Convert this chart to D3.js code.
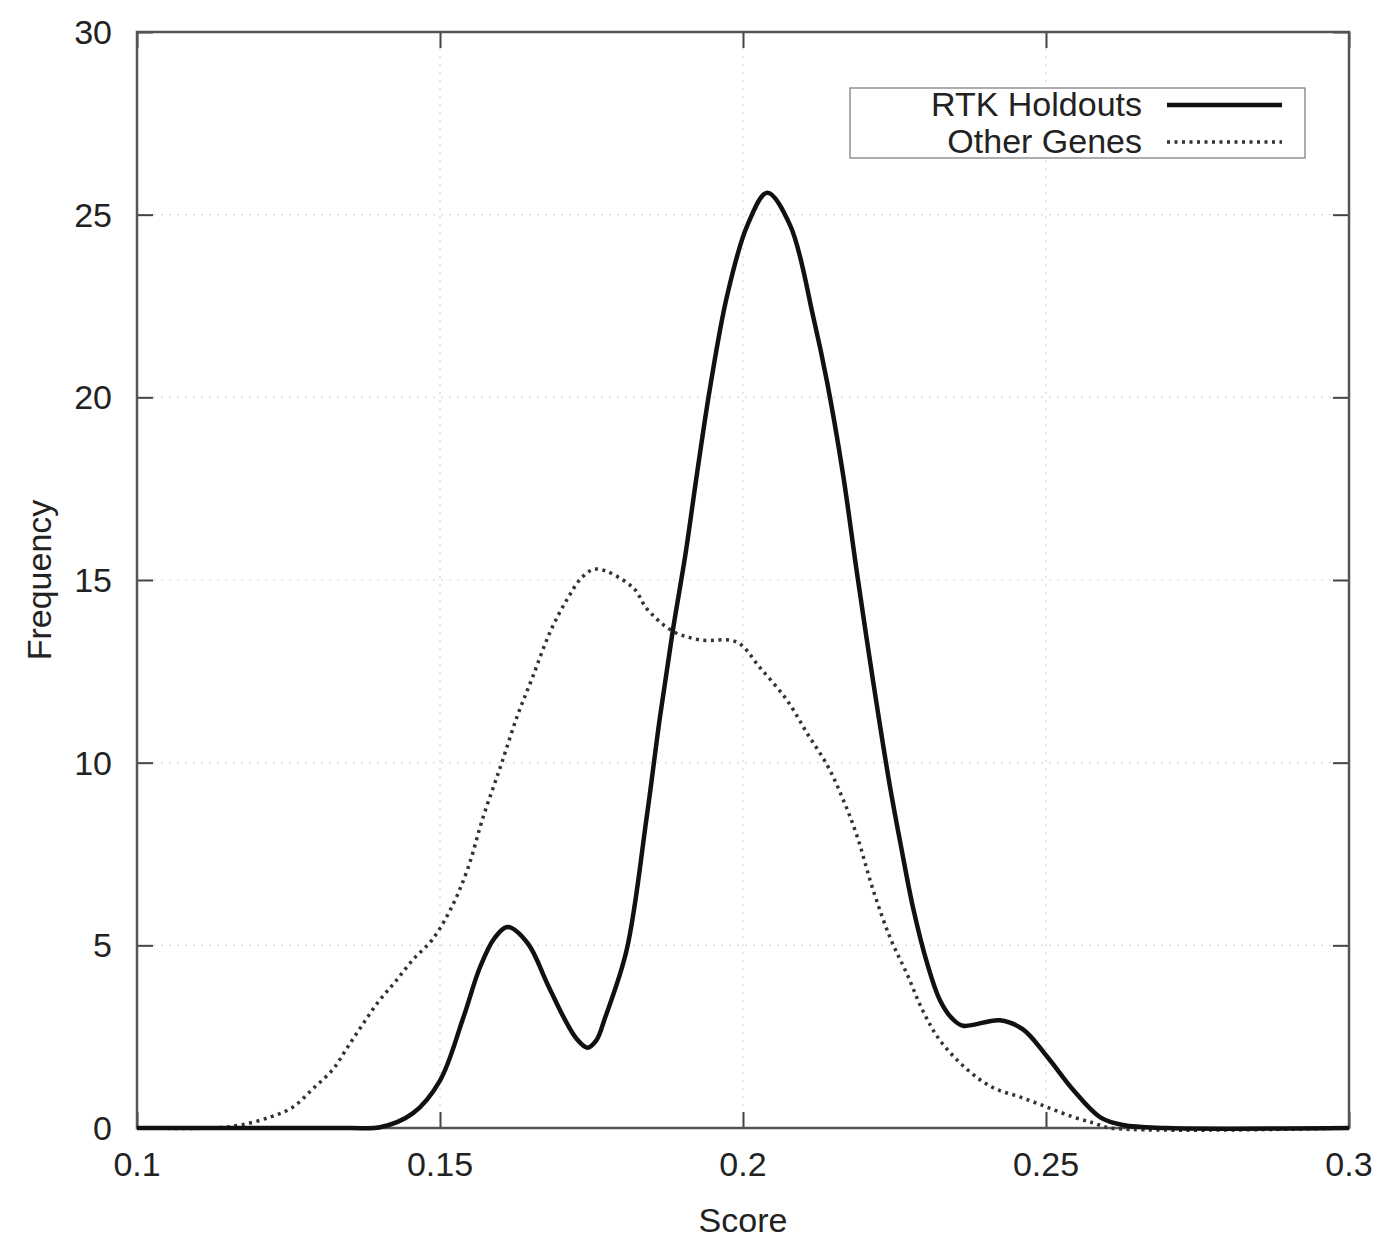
<!DOCTYPE html>
<html>
<head>
<meta charset="utf-8">
<script src="https://cdn.jsdelivr.net/npm/d3@7"></script>
<style>
  body { margin: 0; background: #fff; }
  text { font-family: "Liberation Sans", Arial, Helvetica, sans-serif; fill: #222; }
</style>
</head>
<body>
<div id="chart"></div>
<script>
// values
const xTicks = [0.1, 0.15, 0.2, 0.25, 0.3];
const yTicks = [0, 5, 10, 15, 20, 25, 30];
const xTickLabels = ["0.1", "0.15", "0.2", "0.25", "0.3"];

const rtkX = [0.1, 0.12, 0.135, 0.1401, 0.1455, 0.15, 0.1538, 0.1566, 0.159, 0.1612, 0.1645, 0.1677, 0.1705, 0.1725, 0.1743, 0.1758, 0.1772, 0.1808,
  0.1841, 0.1863, 0.1884, 0.1905, 0.1924, 0.1946, 0.1974, 0.2007, 0.204, 0.2078, 0.2116, 0.2139, 0.2165, 0.2188, 0.2215,
  0.2243, 0.2262, 0.2281, 0.2304, 0.2325, 0.2345, 0.2363, 0.2424, 0.2462, 0.2502, 0.2545, 0.2589, 0.2627, 0.27, 0.3];
const rtkY = [0, 0, 0, 0.02, 0.4, 1.3, 3.0, 4.4, 5.2, 5.5, 5.05, 3.95, 3.0, 2.45, 2.2, 2.4, 3.0, 4.87,
  8.5, 11.25, 13.6, 15.7, 17.9, 20.3, 22.8, 24.7, 25.6, 24.7, 22.2, 20.4, 17.9, 15.2, 12.2,
  9.3, 7.6, 6.0, 4.5, 3.5, 3.0, 2.8, 2.95, 2.7, 1.95, 1.04, 0.3, 0.08, 0, 0];

const otherX = [0.1, 0.1125, 0.117, 0.122, 0.1257, 0.129, 0.1323, 0.1347, 0.1371, 0.1398, 0.1426, 0.1455, 0.1487, 0.1517, 0.1545,
  0.1571, 0.16, 0.1627, 0.1653, 0.1681, 0.1709, 0.1736, 0.1759, 0.1818, 0.1842, 0.1884, 0.1929, 0.199, 0.2028, 0.2073, 0.2106,
  0.214, 0.2165, 0.2188, 0.2215, 0.2243, 0.2271, 0.2297, 0.2325, 0.237, 0.2413, 0.2457, 0.2502, 0.2545, 0.2578, 0.2606, 0.3];
const otherY = [0, 0, 0.08, 0.3, 0.57, 1.07, 1.6, 2.2, 2.8, 3.45, 4.0, 4.6, 5.15, 5.97, 7.06,
  8.5, 9.9, 11.25, 12.35, 13.55, 14.45, 15.1, 15.3, 14.8, 14.2, 13.6, 13.36, 13.3, 12.6, 11.7, 10.8,
  9.9, 9.0, 8.0, 6.5, 5.2, 4.2, 3.2, 2.4, 1.6, 1.1, 0.85, 0.57, 0.3, 0.14, 0, 0];

const seriesNames = ["RTK Holdouts", "Other Genes"];

const W = 1388, H = 1242;
const margin = {top: 32, right: 39, bottom: 114, left: 137};
const width = W - margin.left - margin.right;
const height = H - margin.top - margin.bottom;

const x = d3.scaleLinear().domain([0.1, 0.3]).range([0, width]);
const y = d3.scaleLinear().domain([0, 30]).range([height, 0]);

const svg = d3.select("#chart").append("svg")
  .attr("width", W)
  .attr("height", H);

const g = svg.append("g")
  .attr("transform", `translate(${margin.left},${margin.top})`);

// faint dotted grid
const grid = g.append("g").attr("class", "grid");
grid.selectAll("line.gx").data(xTicks.slice(1, -1)).join("line")
    .attr("class", "gx")
    .attr("x1", d => x(d)).attr("x2", d => x(d))
    .attr("y1", 0).attr("y2", height)
    .attr("stroke", "#d6d6d6").attr("stroke-width", 1.2).attr("stroke-dasharray", "2,6");
grid.selectAll("line.gy").data(yTicks.slice(1, -1)).join("line")
    .attr("class", "gy")
    .attr("x1", 0).attr("x2", width)
    .attr("y1", d => y(d)).attr("y2", d => y(d))
    .attr("stroke", "#d6d6d6").attr("stroke-width", 1.2).attr("stroke-dasharray", "2,6");

// axes, ticks pointing inwards, mirrored on the opposite side
const tick = 16;
const fontSize = 34;

const gxB = g.append("g").attr("transform", `translate(0,${height})`)
  .call(d3.axisTop(x).tickValues(xTicks).tickSize(tick).tickFormat(""));
const gxT = g.append("g")
  .call(d3.axisBottom(x).tickValues(xTicks).tickSize(tick).tickFormat(""));
const gyL = g.append("g")
  .call(d3.axisRight(y).tickValues(yTicks).tickSize(tick).tickFormat(""));
const gyR = g.append("g").attr("transform", `translate(${width},0)`)
  .call(d3.axisLeft(y).tickValues(yTicks).tickSize(tick).tickFormat(""));

[gxB, gxT, gyL, gyR].forEach(a => {
  a.select(".domain").remove();
  a.selectAll(".tick line").attr("stroke", "#444").attr("stroke-width", 2);
});

// tick labels
g.append("g").selectAll("text").data(xTicks).join("text")
  .attr("x", d => x(d))
  .attr("y", height + 48)
  .attr("text-anchor", "middle")
  .attr("font-size", fontSize)
  .text((d, i) => xTickLabels[i]);

g.append("g").selectAll("text").data(yTicks).join("text")
  .attr("x", -25)
  .attr("y", d => y(d) + 12)
  .attr("text-anchor", "end")
  .attr("font-size", fontSize)
  .text(d => d);

// frame
g.append("rect")
  .attr("x", 0).attr("y", 0)
  .attr("width", width).attr("height", height)
  .attr("fill", "none")
  .attr("stroke", "#555")
  .attr("stroke-width", 2.5);

// axis titles
g.append("text")
  .attr("x", x(0.2))
  .attr("y", height + 104)
  .attr("text-anchor", "middle")
  .attr("font-size", fontSize)
  .text("Score");

g.append("text")
  .attr("transform", `translate(${-86},${y(15)}) rotate(-90)`)
  .attr("text-anchor", "middle")
  .attr("font-size", fontSize)
  .text("Frequency");

// curves
const line = d3.line()
  .x(d => x(d[0]))
  .y(d => Math.min(y(d[1]), height))
  .curve(d3.curveCatmullRom.alpha(0.5));

const otherData = d3.zip(otherX, otherY);
const rtkData = d3.zip(rtkX, rtkY);

g.append("path")
  .datum(otherData)
  .attr("fill", "none")
  .attr("stroke", "#333")
  .attr("stroke-width", 3.5)
  .attr("stroke-dasharray", "3,4.5")
  .attr("d", line);

g.append("path")
  .datum(rtkData)
  .attr("fill", "none")
  .attr("stroke", "#111")
  .attr("stroke-width", 4.5)
  .attr("stroke-linejoin", "round")
  .attr("d", line);

// legend
const legend = svg.append("g").attr("transform", "translate(850,88)");
legend.append("rect")
  .attr("width", 455).attr("height", 70)
  .attr("fill", "#fff")
  .attr("stroke", "#777")
  .attr("stroke-width", 1.2);

const legendStyles = [
  {dash: null, sw: 4.5, color: "#111"},
  {dash: "3,4.5", sw: 3.5, color: "#333"}
];

seriesNames.forEach((name, i) => {
  const row = legend.append("g").attr("transform", `translate(0,${17 + i * 37})`);
  row.append("text")
    .attr("x", 292)
    .attr("y", 11)
    .attr("text-anchor", "end")
    .attr("font-size", fontSize)
    .text(name);
  row.append("line")
    .attr("x1", 317).attr("x2", 432)
    .attr("y1", 0).attr("y2", 0)
    .attr("stroke", legendStyles[i].color)
    .attr("stroke-width", legendStyles[i].sw)
    .attr("stroke-dasharray", legendStyles[i].dash);
});
</script>
</body>
</html>
